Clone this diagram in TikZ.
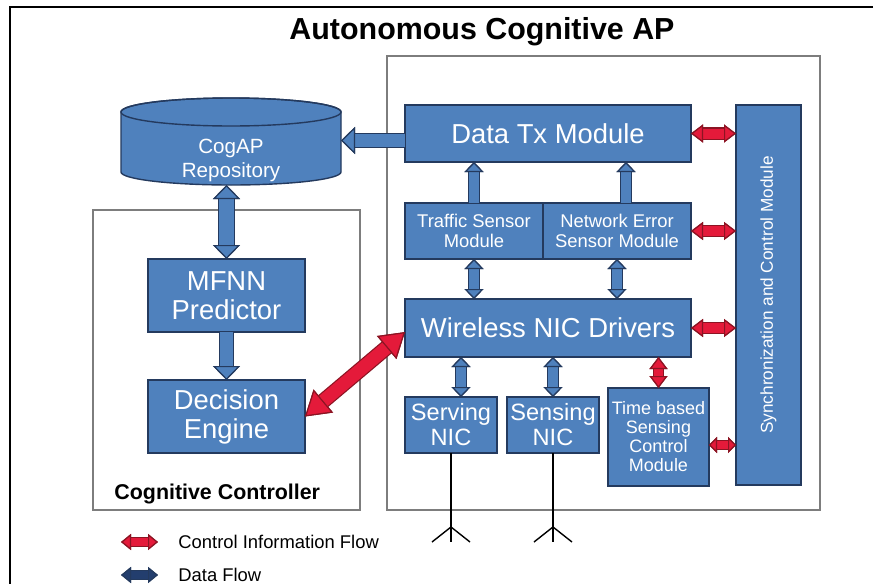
\documentclass[tikz,border=0pt]{standalone}
\usepackage{fontspec}
\setmainfont{Liberation Sans}
\usetikzlibrary{arrows.meta,calc}
\definecolor{apblue}{RGB}{79,129,189}
\definecolor{apline}{RGB}{36,58,94}
\definecolor{apred}{RGB}{228,26,58}
\definecolor{redline}{RGB}{140,20,35}
\definecolor{apnavy}{RGB}{35,62,110}
\definecolor{panelgray}{RGB}{125,125,125}
\tikzstyle{module}=[draw=apline, fill=apblue, text=white, align=center, inner sep=0pt, outer sep=0pt, line width=0.7pt]
\tikzstyle{panel}=[draw=panelgray, line width=0.8pt, inner sep=0pt, outer sep=0pt]
\tikzstyle{bigtext}=[font=\fontsize{13.7}{14.5}\selectfont]
\tikzstyle{nictext}=[font=\fontsize{11.8}{12.5}\selectfont]
\tikzstyle{sensetext}=[font=\fontsize{9.2}{9.7}\selectfont]
\tikzstyle{antenna}=[draw=black, line width=0.7pt]
\tikzset{
  data/.style={draw=apblue, line width=#1, preaction={draw=apline, line width=#1+1.2pt}},
  ctrl/.style={draw=apred, line width=#1, preaction={draw=redline, line width=#1+1.2pt}},
  navy/.style={draw=apnavy, line width=#1, preaction={draw=apline, line width=#1+1.2pt}},
  DataBig/.tip={Triangle[width=13.5pt, length=7pt, color=apline, fill=apblue, line width'=0.6pt]},
  DataSmall/.tip={Triangle[width=9.5pt, length=5pt, color=apline, fill=apblue, line width'=0.6pt]},
  CtrlSmall/.tip={Triangle[width=9pt, length=6pt, color=redline, fill=apred, line width'=0.6pt]},
  CtrlTiny/.tip={Triangle[width=8pt, length=4pt, color=redline, fill=apred, line width'=0.6pt]},
  CtrlBig/.tip={Triangle[width=15pt, length=12pt, color=redline, fill=apred, line width'=0.6pt]},
  CtrlLeg/.tip={Triangle[width=8pt, length=5pt, color=redline, fill=apred, line width'=0.6pt]},
  NavyLeg/.tip={Triangle[width=8pt, length=5pt, color=apline, fill=apnavy, line width'=0.6pt]},
}

\begin{document}
\begin{tikzpicture}[x=0.5pt, y=-0.5pt]
\useasboundingbox (0,0) rectangle (875,584);
\draw[line width=1pt] (873,7) -- (10,7) -- (10,584);

\node[font=\fontsize{15.2}{18}\selectfont\bfseries] (title) at (482,32) {Autonomous Cognitive AP};

\node[panel, minimum width=216.5pt, minimum height=227pt] (ap) at (603.5,283) {};
\node[panel, minimum width=133.5pt, minimum height=150pt] (cc) at (226.5,360) {};
\node[anchor=west, inner sep=0pt, font=\fontsize{10.7}{13}\selectfont\bfseries] (ccl) at (114,494) {Cognitive Controller};

\node[inner sep=0pt, outer sep=0pt, minimum width=110pt, minimum height=43.5pt] (db) at (231,141.5) {};
\filldraw[module] ($(db.north west)+(0,14)$) -- ($(db.south west)+(0,-13)$)
  arc[start angle=180, end angle=0, x radius=110, y radius=13]
  -- ($(db.north east)+(0,14)$)
  arc[start angle=360, end angle=180, x radius=110, y radius=14] -- cycle;
\draw[draw=apline, line width=0.7pt] ($(db.north)+(0,14)$) ellipse [x radius=110, y radius=14];
\node[text=white, align=center, font=\fontsize{10.3}{12}\selectfont] (dbt) at (231,160) {CogAP\\Repository};

\node[module, bigtext, minimum width=78.5pt, minimum height=36.5pt] (mf) at (226.5,295.5) {MFNN\\Predictor};
\node[module, bigtext, minimum width=78.5pt, minimum height=36.5pt] (de) at (226.5,416.5) {Decision\\Engine};

\node[module, bigtext, minimum width=143pt, minimum height=28.5pt] (tx) at (548,133.5) {Data Tx Module};
\node[module, sensetext, minimum width=69pt, minimum height=28pt] (ts) at (474,231) {Traffic Sensor\\Module};
\node[module, sensetext, minimum width=74pt, minimum height=28pt] (ne) at (617,231) {Network Error\\Sensor Module};
\node[module, bigtext, minimum width=143pt, minimum height=29pt] (wn) at (548,328) {Wireless NIC Drivers};
\node[module, nictext, minimum width=46pt, minimum height=28pt] (sv) at (451,425) {Serving\\NIC};
\node[module, nictext, minimum width=46pt, minimum height=28pt] (sn) at (553,425) {Sensing\\NIC};
\node[module, font=\fontsize{9}{9.5}\selectfont, minimum width=50.5pt, minimum height=49pt] (tb) at (658.5,437) {Time based\\Sensing\\Control\\Module};
\node[module, font=\fontsize{8.6}{10}\selectfont, minimum width=32.5pt, minimum height=190pt] (sc) at (768.5,295) {\rotatebox{90}{Synchronization and Control Module}};

\coordinate (txw) at ($(tx.west)+(0,7)$);
\coordinate (nen) at ($(ne.north)+(9,0)$);
\coordinate (svn) at ($(sv.north)+(10,0)$);
\coordinate (tbe) at ($(tb.east)+(0,8)$);
\coordinate (wnw) at ($(wn.south west)!0.43!(wn.north west)$);

\draw[data=6.5pt, -DataBig] (txw) -- (txw -| db.east);
\draw[data=7.5pt, DataBig-DataBig] (mf.north) -- (mf.north |- db.south);
\draw[data=6.5pt, -DataBig] (mf) -- (de);
\draw[data=5pt, -DataSmall] (ts.north) -- (ts.north |- tx.south);
\draw[data=5pt, -DataSmall] (nen) -- (nen |- tx.south);
\draw[data=5pt, DataSmall-DataSmall] (ts.south) -- (ts.south |- wn.north);
\draw[data=5pt, DataSmall-DataSmall] (ne.south) -- (ne.south |- wn.north);
\draw[data=5pt, DataSmall-DataSmall] (svn) -- (svn |- wn.south);
\draw[data=5pt, DataSmall-DataSmall] (sn.north) -- (sn.north |- wn.south);

\draw[ctrl=4.5pt, CtrlSmall-CtrlSmall] (tb.north) -- (tb.north |- wn.south);
\draw[ctrl=5pt, CtrlSmall-CtrlSmall] (tx.east) -- (tx.east -| sc.west);
\draw[ctrl=5pt, CtrlSmall-CtrlSmall] (ne.east) -- (ne.east -| sc.west);
\draw[ctrl=5pt, CtrlSmall-CtrlSmall] (wn.east) -- (wn.east -| sc.west);
\draw[ctrl=4pt, CtrlTiny-CtrlTiny] (tbe) -- (tbe -| sc.west);
\draw[ctrl=6.5pt, CtrlBig-CtrlBig] (de.east) -- (wnw);

\coordinate (sva) at ($(sv.south)+(0,74)$);
\coordinate (sna) at ($(sn.south)+(0,74)$);
\draw[antenna] (sv.south) -- ($(sv.south)+(0,89)$);
\draw[antenna] ($(sva)+(-19,15)$) -- (sva) -- ($(sva)+(19,15)$);
\draw[antenna] (sn.south) -- ($(sn.south)+(0,89)$);
\draw[antenna] ($(sna)+(-19,15)$) -- (sna) -- ($(sna)+(19,15)$);

\coordinate (l1a) at (121,542);
\coordinate (l1b) at (158,542);
\coordinate (l2a) at (121,575);
\coordinate (l2b) at (158,575);
\draw[ctrl=4pt, CtrlLeg-CtrlLeg] (l1a) -- (l1b);
\draw[navy=4pt, NavyLeg-NavyLeg] (l2a) -- (l2b);
\node[anchor=west, inner sep=0pt, font=\fontsize{9.2}{11}\selectfont] (l1) at (178,542) {Control Information Flow};
\node[anchor=west, inner sep=0pt, font=\fontsize{9.2}{11}\selectfont] (l2) at (178,575) {Data Flow};
\end{tikzpicture}
\end{document}
